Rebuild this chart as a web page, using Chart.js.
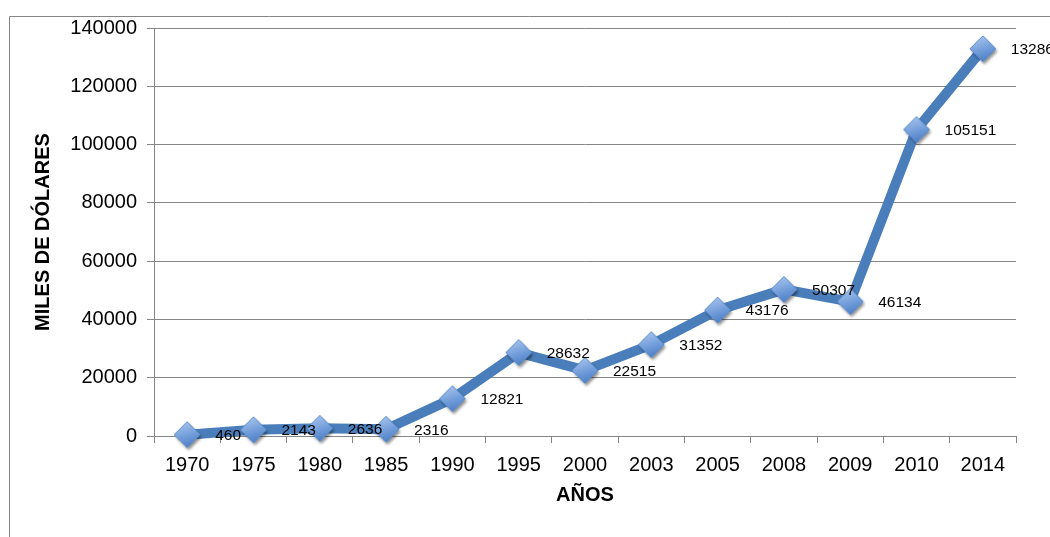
<!DOCTYPE html>
<html>
<head>
<meta charset="utf-8">
<title>Miles de dólares por año</title>
<script src="https://cdn.jsdelivr.net/npm/chart.js@4.4.1/dist/chart.umd.min.js"></script>
<style>
  html, body { margin: 0; padding: 0; background: #ffffff; overflow: hidden; }
  canvas { display: block; }
</style>
</head>
<body>
<canvas id="chart" width="1050" height="537"></canvas>
<script>
// Years on the category axis
const categories = ['1970', '1975', '1980', '1985', '1990', '1995', '2000', '2003', '2005', '2008', '2009', '2010', '2014'];
// Amounts in thousands of dollars
const values = [460, 2143, 2636, 2316, 12821, 28632, 22515, 31352, 43176, 50307, 46134, 105151, 132867];
// Value axis range and step
const yMin = 0;
const yMax = 140000;
const yStep = 20000;

const FONT = '"Liberation Sans", Arial, sans-serif';
const GRID = '#868686';

// Diamond marker with a soft gradient and a small drop shadow
function makeDiamond() {
  const s = 36;
  const c = document.createElement('canvas');
  c.width = s; c.height = s;
  const g = c.getContext('2d');
  const cx = s / 2, cy = s / 2, r = 13;
  const path = () => {
    g.beginPath();
    g.moveTo(cx, cy - r);
    g.lineTo(cx + r, cy);
    g.lineTo(cx, cy + r);
    g.lineTo(cx - r, cy);
    g.closePath();
  };
  g.save();
  g.shadowColor = 'rgba(0,0,0,0.45)';
  g.shadowBlur = 3;
  g.shadowOffsetX = 1.5;
  g.shadowOffsetY = 2.5;
  path();
  const grad = g.createLinearGradient(cx - r * 0.3, cy - r, cx + r * 0.3, cy + r);
  grad.addColorStop(0, '#a9c4ec');
  grad.addColorStop(0.5, '#75a0dc');
  grad.addColorStop(1, '#4a7cc4');
  g.fillStyle = grad;
  g.fill();
  g.restore();
  path();
  g.strokeStyle = '#5b8ccd';
  g.lineWidth = 1;
  g.stroke();
  return c;
}

// Outer frame of the chart (left and top edges)
const framePlugin = {
  id: 'frame',
  beforeDraw(chart) {
    const ctx = chart.ctx;
    ctx.save();
    ctx.strokeStyle = GRID;
    ctx.lineWidth = 1;
    ctx.beginPath();
    ctx.moveTo(9.5, chart.height);
    ctx.lineTo(9.5, 16.5);
    ctx.lineTo(chart.width, 16.5);
    ctx.stroke();
    ctx.restore();
  }
};

// Value labels to the right of each marker
const valueLabels = {
  id: 'valueLabels',
  afterDatasetsDraw(chart) {
    const ctx = chart.ctx;
    const meta = chart.getDatasetMeta(0);
    ctx.save();
    ctx.font = '15.5px ' + FONT;
    ctx.fillStyle = '#000000';
    ctx.textAlign = 'left';
    ctx.textBaseline = 'middle';
    meta.data.forEach((pt, i) => {
      ctx.fillText(String(values[i]), pt.x + 28, pt.y + 1);
    });
    ctx.restore();
  }
};

const marker = makeDiamond();

new Chart(document.getElementById('chart'), {
  type: 'line',
  data: {
    labels: categories,
    datasets: [{
      data: values,
      borderColor: '#4a7ebb',
      borderWidth: 10,
      borderJoinStyle: 'round',
      borderCapStyle: 'round',
      tension: 0,
      fill: false,
      clip: false,
      pointStyle: marker,
      pointRadius: 13,
      pointHoverRadius: 13
    }]
  },
  options: {
    responsive: false,
    devicePixelRatio: 1,
    animation: false,
    events: [],
    layout: { padding: { left: 27, right: 34, top: 28, bottom: 26 } },
    plugins: {
      legend: { display: false },
      tooltip: { enabled: false }
    },
    scales: {
      x: {
        offset: true,
        grid: { offset: true, drawOnChartArea: false, tickLength: 7, color: GRID },
        border: { color: GRID, width: 1 },
        ticks: { color: '#000000', font: { family: FONT, size: 20 }, padding: 10, maxRotation: 0 },
        title: {
          display: true, text: 'AÑOS', color: '#000000',
          font: { family: FONT, size: 20, weight: 'bold' },
          padding: { top: 4, bottom: 4 }
        },
        afterFit(scale) { scale.height = 75; }
      },
      y: {
        min: yMin,
        max: yMax,
        grid: { color: GRID, tickLength: 7 },
        border: { color: GRID, width: 1 },
        ticks: {
          stepSize: yStep, color: '#000000', font: { family: FONT, size: 20 }, padding: 10,
          callback: (v) => String(v)
        },
        title: {
          display: true, text: 'MILES DE DÓLARES', color: '#000000',
          font: { family: FONT, size: 20, weight: 'bold' },
          padding: { top: 4, bottom: 4 }
        },
        afterFit(scale) { scale.width = 127; }
      }
    }
  },
  plugins: [framePlugin, valueLabels]
});
</script>
</body>
</html>
